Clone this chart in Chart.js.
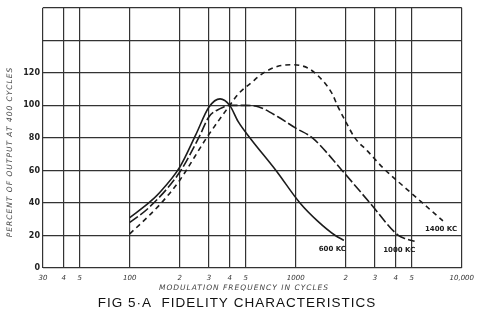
<!DOCTYPE html>
<html>
<head>
<meta charset="utf-8">
<script src="https://cdn.jsdelivr.net/npm/chart.js@4"></script>
<style>
  html, body { margin: 0; padding: 0; background: #fff; }
  #wrap { width: 480px; height: 312px; position: relative; }
</style>
</head>
<body>
<div id="wrap"><canvas id="fig"></canvas></div>
<script>
// ===== DATA =====
const xTickValues = [30, 40, 50, 100, 200, 300, 400, 500, 1000, 2000, 3000, 4000, 5000, 10000];
const xTickLabels = ['30', '4', '5', '100', '2', '3', '4', '5', '1000', '2', '3', '4', '5', '10,000'];
const yTickLabels = ['0', '20', '40', '60', '80', '100', '120', '', ''];

// 600 KC - solid
const freq600 = [100, 130, 150, 200, 250, 300, 350, 400, 450, 530, 760, 1060, 1350, 1730, 1950];
const pct600  = [31, 40, 46, 62, 82, 99, 104, 100, 90, 80, 60, 40, 29, 20, 17];

// 1000 KC - long dash
const freq1000 = [100, 130, 200, 260, 300, 350, 400, 500, 600, 780, 1000, 1260, 1900, 2800, 4150, 4600, 5200];
const pct1000  = [28, 37, 59, 80, 93, 98, 100, 100, 99, 93, 86, 80, 60, 40, 20, 18, 16.5];

// 1400 KC - short dash
const freq1400 = [100, 130, 155, 200, 290, 400, 450, 540, 640, 780, 960, 1180, 1400, 1660, 1780, 2000, 2270, 2700, 3400, 4600, 5800, 7700];
const pct1400  = [21, 32, 40, 54, 80, 100, 107, 114, 120, 124, 125, 123, 117, 107, 100, 90, 80, 72, 61, 49, 40, 29];

// curve tags, anchored in data units
const curveTags = [
    { text: '600 KC',  x: 1660, y: 11.5 },
    { text: '1000 KC', x: 4200, y: 11 },
    { text: '1400 KC', x: 7500, y: 24 }
];

const pairs = (xs, ys) => xs.map((x, i) => ({ x: x, y: ys[i] }));

// ===== TEXT PLUGIN =====
const ink = '#1c1c1c';
const textPlugin = {
    id: 'figText',
    afterDraw(chart) {
        const c = chart.ctx;
        const xs = chart.scales.x, ys = chart.scales.y;
        const area = chart.chartArea;
        c.save();
        c.fillStyle = ink;
        c.textAlign = 'center';
        c.textBaseline = 'middle';

        // curve tags
        c.font = 'bold 7px "DejaVu Sans"';
        curveTags.forEach(t => {
            c.fillText(t.text, xs.getPixelForValue(t.x), ys.getPixelForValue(t.y));
        });

        // x axis title
        c.font = 'italic 7.5px "DejaVu Sans"';
        c.letterSpacing = '1px';
        c.fillStyle = '#444';
        c.fillText('MODULATION FREQUENCY IN CYCLES', 244, area.bottom + 20);

        // y axis title
        c.save();
        c.translate(10, 152);
        c.rotate(-Math.PI / 2);
        c.font = 'italic 7.5px "DejaVu Sans"';
        c.letterSpacing = '1px';
        c.fillText('PERCENT OF OUTPUT AT 400 CYCLES', 0, 0);
        c.restore();

        // figure caption
        c.fillStyle = '#111';
        c.letterSpacing = '1px';
        c.font = '13.5px "Liberation Sans"';
        c.fillText('FIG 5·A  FIDELITY CHARACTERISTICS', 237, area.bottom + 35);
        c.restore();
    }
};

// ===== CHART =====
const lineBase = {
    borderColor: ink,
    borderWidth: 1.6,
    pointRadius: 0,
    fill: false,
    tension: 0.4,
    cubicInterpolationMode: 'monotone'
};

new Chart(document.getElementById('fig'), {
    type: 'line',
    data: {
        datasets: [
            Object.assign({ label: '600 KC',  data: pairs(freq600, pct600) }, lineBase),
            Object.assign({ label: '1000 KC', data: pairs(freq1000, pct1000), borderDash: [10, 3] }, lineBase),
            Object.assign({ label: '1400 KC', data: pairs(freq1400, pct1400), borderDash: [5, 4] }, lineBase)
        ]
    },
    options: {
        responsive: true,
        maintainAspectRatio: false,
        animation: false,
        layout: { padding: { left: 0, right: 13, top: 6, bottom: 0 } },
        plugins: {
            legend: { display: false },
            tooltip: { enabled: false }
        },
        scales: {
            x: {
                type: 'logarithmic',
                min: 30,
                max: 10000,
                afterBuildTicks: s => { s.ticks = xTickValues.map(v => ({ value: v })); },
                afterFit: s => { s.height = 44; },
                grid: { color: '#333', lineWidth: 1.2, drawTicks: false },
                border: { display: false },
                ticks: {
                    autoSkip: false,
                    maxRotation: 0,
                    padding: 6,
                    color: '#333',
                    font: { size: 7, style: 'italic', family: 'DejaVu Sans' },
                    callback: (v, i) => xTickLabels[i]
                }
            },
            y: {
                min: 0,
                max: 160,
                afterFit: s => { s.width = 43; },
                grid: { color: '#333', lineWidth: 1.2, drawTicks: false },
                border: { display: false },
                ticks: {
                    stepSize: 20,
                    padding: 3,
                    color: '#222',
                    font: { size: 8, weight: 'bold', family: 'DejaVu Sans' },
                    callback: (v, i) => yTickLabels[i]
                }
            }
        }
    },
    plugins: [textPlugin]
});
</script>
</body>
</html>
